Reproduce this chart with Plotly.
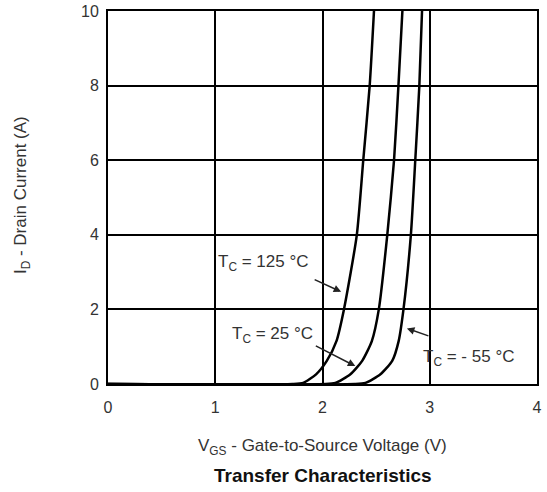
import plotly.graph_objects as go

# Transfer characteristics data (V_GS in V, I_D in A)
id_levels = [0, 0, 0.03, 0.26, 0.62, 1.15, 2.0, 4.0, 6.0, 8.0, 10.0]
vgs_125 = [0, 1.72, 1.82, 1.94, 2.04, 2.13, 2.20, 2.32, 2.38, 2.44, 2.48]
vgs_25 = [0, 2.03, 2.12, 2.26, 2.37, 2.46, 2.525, 2.604, 2.667, 2.708, 2.745]
vgs_m55 = [0, 2.30, 2.40, 2.54, 2.65, 2.71, 2.755, 2.824, 2.865, 2.903, 2.928]

labels = ["T<sub>C</sub> = 125 °C", "T<sub>C</sub> = 25 °C", "T<sub>C</sub> = - 55 °C"]
x_ticks = [0, 1, 2, 3, 4]
y_ticks = [0, 2, 4, 6, 8, 10]

FONT = "Liberation Sans, Arial, sans-serif"
TXT = "#333333"

fig = go.Figure()
for xs, name in zip([vgs_125, vgs_25, vgs_m55], labels):
    fig.add_trace(go.Scatter(x=xs, y=id_levels, mode="lines", name=name,
                             line=dict(color="black", width=2.5, shape="spline", smoothing=0.6),
                             showlegend=False))

axis_common = dict(showgrid=True, gridcolor="black", gridwidth=1.5, showline=True,
                   linecolor="black", linewidth=2, mirror=True, zeroline=False,
                   automargin=False, ticks="",
                   tickfont=dict(family=FONT, size=16, color=TXT))

fig.update_xaxes(range=[0, 4], tickvals=x_ticks, ticklabelstandoff=8, **axis_common)
fig.update_yaxes(range=[0, 10], tickvals=y_ticks, ticklabelstandoff=4, **axis_common)

LBL = dict(family=FONT, size=17, color=TXT)
annotations = [
    # curve labels
    dict(x=1.454, y=3.24, xref="x", yref="y", text=labels[0], showarrow=False, font=LBL),
    dict(x=1.538, y=1.31, xref="x", yref="y", text=labels[1], showarrow=False, font=LBL),
    dict(x=3.36, y=0.70, xref="x", yref="y", text=labels[2], showarrow=False, font=LBL),
    # arrows
    dict(x=2.174, y=2.47, xref="x", yref="y", text="", showarrow=True, arrowhead=2,
         arrowsize=1, arrowwidth=1.5, arrowcolor="#222", ax=-28, ay=-13),
    dict(x=2.306, y=0.48, xref="x", yref="y", text="", showarrow=True, arrowhead=2,
         arrowsize=1, arrowwidth=1.5, arrowcolor="#222", ax=-41, ay=-21),
    dict(x=2.787, y=1.49, xref="x", yref="y", text="", showarrow=True, arrowhead=2,
         arrowsize=1, arrowwidth=1.5, arrowcolor="#222", ax=23, ay=8),
    # axis titles and chart title
    dict(x=0.5, y=-0.169, xref="paper", yref="paper", showarrow=False,
         text="V<sub>GS</sub> - Gate-to-Source Voltage (V)", yanchor="middle",
         font=dict(family=FONT, size=17, color=TXT)),
    dict(x=0.5, y=-0.244, xref="paper", yref="paper", showarrow=False,
         text="<b>Transfer Characteristics</b>", yanchor="middle",
         font=dict(family=FONT, size=19, color="#111")),
    dict(x=-0.2, y=0.507, xref="paper", yref="paper", showarrow=False, textangle=-90,
         text="I<sub>D</sub> - Drain Current (A)", xanchor="center", yanchor="middle",
         font=dict(family=FONT, size=17, color=TXT)),
]

fig.update_layout(width=547, height=492, margin=dict(l=108, r=10, t=11, b=108),
                  paper_bgcolor="white", plot_bgcolor="white",
                  annotations=annotations)

fig.write_html("out.html", config={"displayModeBar": False},
               post_script="document.body.style.margin='0px';document.body.style.overflow='hidden';")
